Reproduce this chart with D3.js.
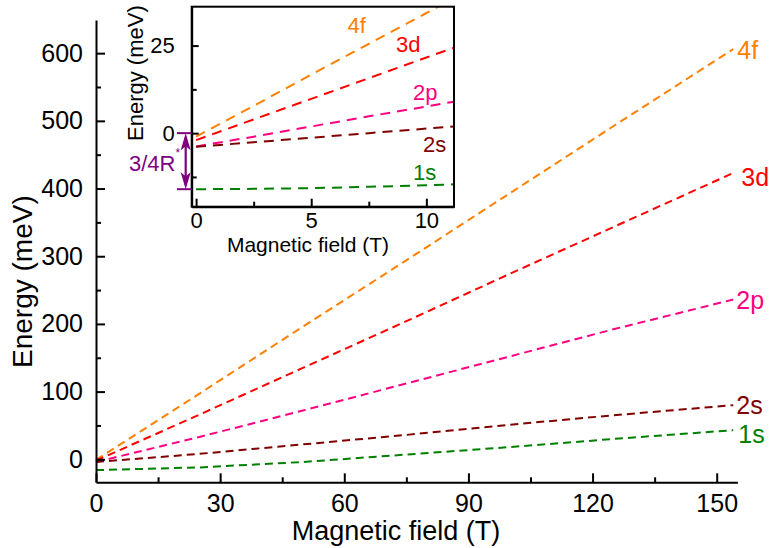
<!DOCTYPE html>
<html><head><meta charset="utf-8">
<script src="https://cdn.jsdelivr.net/npm/d3@7"></script>
<style>body{margin:0;background:#fff}svg{display:block}text{font-family:"Liberation Sans",Arial,sans-serif}</style>
</head><body><svg id="c" width="772" height="548"></svg>
<script>
// ---- main panel data ----
const mainField = [0, 25, 50, 75, 100, 125, 154];
const main4f = [-1, 97, 196, 294, 393, 492, 606];
const main3d = [-2, 66, 135, 204, 274, 343, 423];
const main2p = [-4, 33, 72, 112, 152, 192, 236];
const main2s = [-4, 8, 22, 36, 51, 65, 80];
const main1s = [-16, -12, -4, 7, 18, 30, 43];
const mainXTicks = [0, 30, 60, 90, 120, 150];
const mainYTicks = [0, 100, 200, 300, 400, 500, 600];
// ---- inset data ----
const insetField = [0, 2.5, 5, 7.5, 10, 11.2];
const inset4f = [-1, 7.8, 16.7, 25.5, 34.3, 38.5];
const inset3d = [-2, 3.9, 9.8, 15.7, 21.6, 24.4];
const inset2p = [-3.8, -1.0, 1.9, 4.8, 7.6, 9.0];
const inset2s = [-3.9, -2.6, -1.3, 0, 1.3, 1.9];
const inset1s = [-16, -15.9, -15.7, -15.3, -14.9, -14.6];
const insetXTicks = [0, 5, 10];
const insetYTicks = [0, 25];
const gapValue = [0, -16]; // 3/4 R* arrow ends
const seriesNames = ["4f", "3d", "2p", "2s", "1s"];
const seriesColors = ["#FF8000", "#FF0000", "#FF0080", "#800000", "#008000"];

const svg = d3.select("#c");
const font = '"Liberation Sans",Arial,sans-serif';

// ---------- MAIN ----------
const x = d3.scaleLinear().domain([0, 155]).range([96, 737.4]);
const y = d3.scaleLinear().domain([-34, 649]).range([482.3, 20]);
const mainSeries = [main4f, main3d, main2p, main2s, main1s];
const line = d3.line().x(d => x(d[0])).y(d => y(d[1]));

const gm = svg.append("g");
mainSeries.forEach((s, i) => {
  gm.append("path").datum(mainField.map((f, k) => [f, s[k]]))
    .attr("d", line).attr("fill", "none").attr("stroke", seriesColors[i])
    .attr("stroke-width", 2).attr("stroke-dasharray", "8,5");
});
// labels at the line ends
const labelOffsets = [[4, 10], [8, 13], [3, 9], [3, 9], [5, 13]];
mainSeries.forEach((s, i) => {
  gm.append("text").attr("x", x(mainField[mainField.length - 1]) + labelOffsets[i][0])
    .attr("y", y(s[s.length - 1]) + labelOffsets[i][1])
    .attr("fill", seriesColors[i]).attr("font-size", 25).text(seriesNames[i]);
});

function styleAxis(g, fs) {
  g.selectAll("path.domain").attr("stroke", "#000").attr("stroke-width", 2);
  g.selectAll(".tick line").attr("stroke", "#000").attr("stroke-width", 2);
  g.selectAll("text").attr("font-family", font).attr("font-size", fs).attr("fill", "#000");
}
const xAxis = svg.append("g").attr("transform", "translate(0,482.3)")
  .call(d3.axisBottom(x).tickValues(mainXTicks).tickSize(-9).tickSizeOuter(0).tickPadding(12));
styleAxis(xAxis, 25);
const xMinor = svg.append("g").attr("transform", "translate(0,482.3)")
  .call(d3.axisBottom(x).tickValues(d3.range(15, 155, 30)).tickSize(-5).tickSizeOuter(0).tickFormat(""));
styleAxis(xMinor, 25); xMinor.select("path.domain").remove();
const yAxis = svg.append("g").attr("transform", "translate(96,0)")
  .call(d3.axisLeft(y).tickValues(mainYTicks).tickSize(-9).tickSizeOuter(0).tickPadding(13));
styleAxis(yAxis, 25);
const yMinor = svg.append("g").attr("transform", "translate(96,0)")
  .call(d3.axisLeft(y).tickValues(d3.range(50, 649, 100)).tickSize(-5).tickSizeOuter(0).tickFormat(""));
styleAxis(yMinor, 25); yMinor.select("path.domain").remove();

svg.append("text").attr("x", 396).attr("y", 540).attr("text-anchor", "middle")
  .attr("font-size", 27).text("Magnetic field (T)");
svg.append("text").attr("transform", "translate(32,368) rotate(-90)")
  .attr("font-size", 28).text("Energy (meV)");

// ---------- INSET ----------
const ix = d3.scaleLinear().domain([-0.19, 11.2]).range([191.7, 454]);
const iy = d3.scaleLinear().domain([-21, 36.1]).range([206.7, 6.7]);
svg.append("rect").attr("x", 191.7).attr("y", 6.7).attr("width", 454 - 191.7).attr("height", 200)
  .attr("fill", "#fff");
svg.append("clipPath").attr("id", "ic").append("rect")
  .attr("x", 191.7).attr("y", 6.7).attr("width", 454 - 191.7).attr("height", 200);
const iline = d3.line().x(d => ix(d[0])).y(d => iy(d[1]));
const insetSeries = [inset4f, inset3d, inset2p, inset2s, inset1s];
const gi = svg.append("g").attr("clip-path", "url(#ic)");
insetSeries.forEach((s, i) => {
  gi.append("path").datum(insetField.map((f, k) => [f, s[k]]))
    .attr("d", iline).attr("fill", "none").attr("stroke", seriesColors[i])
    .attr("stroke-width", 2).attr("stroke-dasharray", "10,7");
});
// inset labels (field, energy of label baseline-left)
const insetLabelPos = [[6.58, 28.6], [8.68, 23.2], [9.42, 9.5], [9.85, -5.4], [9.42, -13.4]];
insetSeries.forEach((s, i) => {
  svg.append("text").attr("x", ix(insetLabelPos[i][0])).attr("y", iy(insetLabelPos[i][1]))
    .attr("fill", seriesColors[i]).attr("font-size", 22).text(seriesNames[i]);
});

const ixAxis = svg.append("g").attr("transform", "translate(0,206.7)")
  .call(d3.axisBottom(ix).tickValues(insetXTicks).tickSize(-8).tickSizeOuter(0).tickPadding(6));
styleAxis(ixAxis, 22);
const ixMinor = svg.append("g").attr("transform", "translate(0,206.7)")
  .call(d3.axisBottom(ix).tickValues([2.5, 7.5]).tickSize(-5).tickSizeOuter(0).tickFormat(""));
styleAxis(ixMinor, 22); ixMinor.select("path.domain").remove();
const iyAxis = svg.append("g").attr("transform", "translate(191.7,0)")
  .call(d3.axisLeft(iy).tickValues(insetYTicks).tickSize(-7).tickSizeOuter(0).tickPadding(17));
styleAxis(iyAxis, 22);
const iyMinor = svg.append("g").attr("transform", "translate(191.7,0)")
  .call(d3.axisLeft(iy).tickValues([-12.5, 12.5]).tickSize(-5).tickSizeOuter(0).tickFormat(""));
styleAxis(iyMinor, 22); iyMinor.select("path.domain").remove();
svg.append("rect").attr("x", 191.7).attr("y", 6.7).attr("width", 454 - 191.7).attr("height", 200)
  .attr("fill", "none").attr("stroke", "#000").attr("stroke-width", 2);

svg.append("text").attr("x", 308).attr("y", 252).attr("text-anchor", "middle")
  .attr("font-size", 21).text("Magnetic field (T)");
svg.append("text").attr("transform", "translate(143,141) rotate(-90)")
  .attr("font-size", 22).text("Energy (meV)");

// 3/4 R* annotation
const purple = "#800080";
const ax = 185.7, yTop = iy(gapValue[0]), yBot = iy(gapValue[1]);
svg.append("line").attr("x1", 177).attr("x2", 191.7).attr("y1", yTop).attr("y2", yTop)
  .attr("stroke", purple).attr("stroke-width", 2);
svg.append("line").attr("x1", 177).attr("x2", 191.7).attr("y1", yBot).attr("y2", yBot)
  .attr("stroke", purple).attr("stroke-width", 2);
svg.append("line").attr("x1", ax).attr("x2", ax).attr("y1", yTop + 4).attr("y2", yBot - 4)
  .attr("stroke", purple).attr("stroke-width", 2.2);
svg.append("path").attr("d", `M${ax},${yTop} L${ax - 5},${yTop + 17} L${ax},${yTop + 13} L${ax + 5},${yTop + 17} Z`)
  .attr("fill", purple);
svg.append("path").attr("d", `M${ax},${yBot} L${ax - 5},${yBot - 17} L${ax},${yBot - 13} L${ax + 5},${yBot - 17} Z`)
  .attr("fill", purple);
const rt = svg.append("text").attr("x", 129).attr("y", 171).attr("fill", purple).attr("font-size", 22);
rt.append("tspan").text("3/4R");
rt.append("tspan").attr("font-size", 12).attr("dy", -14).text("*");
</script></body></html>
